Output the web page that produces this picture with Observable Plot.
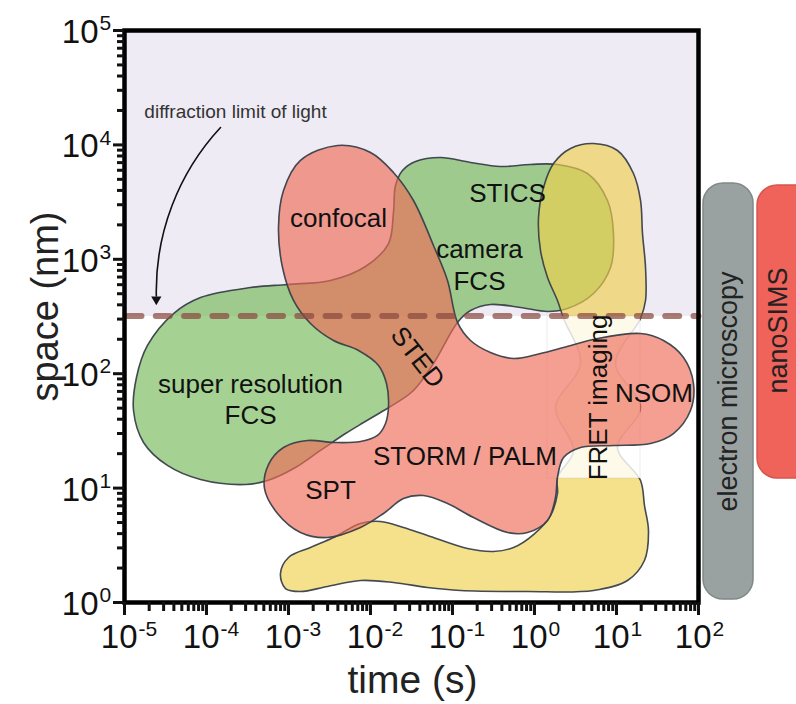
<!DOCTYPE html>
<html><head><meta charset="utf-8">
<script src="https://cdn.jsdelivr.net/npm/d3@7"></script>
<script src="https://cdn.jsdelivr.net/npm/@observablehq/plot@0.6"></script>
<style>body{margin:0;background:#fff}</style>
</head><body><div id="chart"></div>
<script>
// axis decades (log10 of time in s, log10 of space in nm)
const timeDecades = [-5, -4, -3, -2, -1, 0, 1, 2];
const spaceDecades = [0, 1, 2, 3, 4, 5];
const diffractionLimitNm = 320;
const diffractionBandLog = 2.5;

// blob outlines as [log10 time (s), log10 space (nm)]
const greenBlob = [
[-4.72,2.247],[-4.402,2.526],[-4.073,2.666],[-3.463,2.753],[-3.012,2.78],[-2.488,2.815],[-2.061,2.937],[-1.78,3.138],[-1.72,3.409],[-1.695,3.645],[-1.61,3.776],[-1.451,3.855],[-1.146,3.89],[-0.78,3.846],[-0.415,3.811],[-0.049,3.829],[0.28,3.829],[0.646,3.75],[0.89,3.514],[0.963,3.226],[0.927,2.928],[0.72,2.701],[0.402,2.57],[0.159,2.544],[-0.171,2.579],[-0.537,2.605],[-0.78,2.552],[-0.939,2.448],[-1.232,2.089],[-1.476,1.853],[-1.695,1.74],[-1.878,1.661],[-2.085,1.573],[-2.305,1.477],[-2.61,1.329],[-2.915,1.18],[-3.256,1.066],[-3.524,1.031],[-4.073,1.075],[-4.476,1.198],[-4.768,1.399],[-4.89,1.678],[-4.854,1.967]
];
const yellowBlob = [
[0.72,4.012],[1.012,3.951],[1.207,3.75],[1.293,3.514],[1.317,3.226],[1.354,2.928],[1.354,2.64],[1.293,2.483],[0.988,2.089],[1.293,1.705],[1.012,1.355],[1.293,1.066],[1.341,0.848],[1.39,0.629],[1.341,0.367],[1.134,0.192],[0.72,0.105],[-0.085,0.096],[-0.902,0.105],[-1.305,0.131],[-1.72,0.175],[-2.122,0.192],[-2.524,0.14],[-2.854,0.096],[-3.037,0.122],[-3.098,0.253],[-3.0,0.393],[-2.732,0.481],[-2.451,0.568],[-2.122,0.691],[-1.878,0.708],[-1.598,0.656],[-1.305,0.586],[-0.817,0.472],[-0.5,0.446],[-0.256,0.481],[-0.012,0.594],[0.195,0.76],[0.28,0.953],[0.28,1.093],[0.476,1.329],[0.256,1.705],[0.561,2.089],[0.354,2.483],[0.28,2.64],[0.159,2.841],[0.073,3.077],[0.049,3.365],[0.11,3.628],[0.232,3.837],[0.439,3.969]
];
const redBlob = [
[-2.402,3.995],[-2.0,3.934],[-1.72,3.759],[-1.476,3.514],[-1.232,3.121],[-1.061,2.815],[-0.939,2.448],[-0.78,2.29],[-0.537,2.185],[-0.256,2.133],[0.073,2.177],[0.354,2.229],[0.768,2.308],[1.293,2.351],[1.573,2.29],[1.817,2.142],[1.939,1.914],[1.902,1.678],[1.695,1.477],[1.415,1.39],[0.963,1.372],[0.561,1.355],[0.354,1.267],[0.28,1.093],[0.256,0.918],[0.159,0.717],[-0.085,0.612],[-0.329,0.612],[-0.744,0.743],[-1.061,0.865],[-1.354,0.935],[-1.598,0.909],[-1.841,0.778],[-2.122,0.656],[-2.524,0.568],[-2.854,0.612],[-3.134,0.778],[-3.293,0.997],[-3.244,1.206],[-3.061,1.355],[-2.768,1.416],[-2.451,1.399],[-2.122,1.407],[-1.915,1.46],[-1.817,1.565],[-1.78,1.722],[-1.805,1.914],[-1.902,2.072],[-2.146,2.203],[-2.451,2.29],[-2.732,2.439],[-2.939,2.64],[-3.073,2.928],[-3.122,3.278],[-3.061,3.601],[-2.854,3.864]
];
// FRET faded band [t1, t2, s1, s2] in log10
const fretFade = [0.159, 1.293, 1.084, 2.5];

const labels = [
  {text: "confocal", t: -2.39, s: 3.357, r: 0},
  {text: "STICS", t: -0.329, s: 3.575, r: 0},
  {text: "camera", t: -0.671, s: 3.086, r: 0},
  {text: "FCS", t: -0.671, s: 2.806, r: 0},
  {text: "super resolution", t: -3.463, s: 1.906, r: 0},
  {text: "FCS", t: -3.463, s: 1.635, r: 0},
  {text: "STED", t: -1.427, s: 2.142, r: 52},
  {text: "STORM / PALM", t: -0.848, s: 1.276, r: 0},
  {text: "SPT", t: -2.488, s: 0.979, r: 0},
  {text: "NSOM", t: 1.457, s: 1.827, r: 0},
  {text: "FRET imaging", t: 0.78, s: 1.792, r: -90}
];
const annotation = {text: "diffraction limit of light", t: -3.646, s: 4.292};
const arrowPath = {t1: -3.829, s1: 4.152, t2: -4.612, s2: 2.68, tipS: 2.649};

const sideBars = [
  {name: "electron microscopy", t1: 2.061, t2: 2.671, s1: 0.026, s2: 3.663, fill: "#9aa2a1", stroke: "#7f8987", tc: 2.366, sc: 1.844},
  {name: "nanoSIMS", t1: 2.72, t2: 3.49, s1: 1.084, s2: 3.645, fill: "#f0635a", stroke: "#d6554d", tc: 2.976, sc: 2.378}
];

const P = v => 10 ** v;
const minorX = [], minorY = [];
for (const k of timeDecades.slice(0, -1)) for (let m = 2; m <= 9; m++) minorX.push(m * P(k));
for (const k of spaceDecades.slice(0, -1)) for (let m = 2; m <= 9; m++) minorY.push(m * P(k));

const outline = "#39404a";
const blob = (data, fill) => Plot.line(data, {
  x: d => P(d[0]), y: d => P(d[1]), curve: "catmull-rom-closed",
  fill, fillOpacity: 0.65, stroke: outline, strokeWidth: 1.6, strokeOpacity: 0.95
});
const font = "'Liberation Sans', Arial, Helvetica, sans-serif";
const limitLine = [{t: P(-5), s: diffractionLimitNm}, {t: P(2), s: diffractionLimitNm}];

const chart = Plot.plot({
  width: 796, height: 704,
  marginLeft: 124, marginRight: 98, marginTop: 30, marginBottom: 102,
  x: {type: "log", domain: [P(timeDecades[0]), P(timeDecades[timeDecades.length - 1])]},
  y: {type: "log", domain: [P(spaceDecades[0]), P(spaceDecades[spaceDecades.length - 1])]},
  style: {fontFamily: font, background: "white", overflow: "visible", color: "#111"},
  marks: [
    Plot.rect([{x1: P(-5), x2: P(2), y1: P(diffractionBandLog), y2: P(5)}], {x1: "x1", x2: "x2", y1: "y1", y2: "y2", fill: "#eeebf4"}),
    blob(greenBlob, "#74b858"),
    blob(yellowBlob, "#f0cf4e"),
    Plot.rect([{x1: P(fretFade[0]), x2: P(fretFade[1]), y1: P(fretFade[2]), y2: P(fretFade[3])}],
      {x1: "x1", x2: "x2", y1: "y1", y2: "y2", fill: "white", fillOpacity: 0.82, stroke: "#888", strokeOpacity: 0.2, strokeWidth: 0.8}),
    blob(redBlob, "#ee6b58"),
    Plot.line(limitLine, {x: "t", y: "s", stroke: "#8a4a40", strokeOpacity: 0.72, strokeWidth: 6, strokeDasharray: "14 14.3", strokeDashoffset: 25.3}),
    Plot.text(labels, {x: d => P(d.t), y: d => P(d.s), text: "text", rotate: "r", fontSize: 26, lineAnchor: "middle", fill: "#111"}),
    Plot.text([annotation], {x: d => P(d.t), y: d => P(d.s), text: "text", fontSize: 19, lineAnchor: "middle", fill: "#333"}),
    Plot.arrow([arrowPath], {x1: d => P(d.t1), y1: d => P(d.s1), x2: d => P(d.t2), y2: d => P(d.s2), bend: -22, headLength: 0, strokeWidth: 1.6, stroke: "#111"}),
    Plot.dot([arrowPath], {x: d => P(d.t2), y: d => P(d.tipS), symbol: "triangle", r: 3.8, rotate: 180, fill: "#111", stroke: "none"}),
    // side bars
    Plot.rect(sideBars, {x1: d => P(d.t1), x2: d => P(d.t2), y1: d => P(d.s1), y2: d => P(d.s2), fill: "fill", stroke: "stroke", strokeWidth: 1.5, rx: 20}),
    Plot.text(sideBars, {x: d => P(d.tc), y: d => P(d.sc), text: "name", rotate: -90, fontSize: 27, lineAnchor: "middle", fill: "#222"}),
    // frame and axes
    Plot.frame({stroke: "#000", strokeWidth: 4.5}),
    Plot.axisX({ticks: timeDecades.map(P), tickSize: 13, strokeWidth: 3, tickFormat: () => "", label: null}),
    Plot.axisX({ticks: minorX, tickSize: 9, strokeWidth: 3, tickFormat: () => "", label: null}),
    Plot.axisY({ticks: spaceDecades.map(P), tickSize: 11, strokeWidth: 3, tickFormat: () => "", label: null}),
    Plot.axisY({ticks: minorY, tickSize: 7, strokeWidth: 3, tickFormat: () => "", label: null}),
    Plot.text(timeDecades, {x: d => P(d), y: () => 1, text: () => "10", textAnchor: "end", dx: 13, dy: 35, fontSize: 33, lineAnchor: "middle", fill: "#111"}),
    Plot.text(timeDecades, {x: d => P(d), y: () => 1, text: d => String(d), textAnchor: "start", dx: 14, dy: 27, fontSize: 21, lineAnchor: "middle", fill: "#111"}),
    Plot.text(spaceDecades, {x: () => P(-5), y: d => P(d), text: () => "10", textAnchor: "end", dx: -26, dy: 2, fontSize: 33, lineAnchor: "middle", fill: "#111"}),
    Plot.text(spaceDecades, {x: () => P(-5), y: d => P(d), text: d => String(d), textAnchor: "start", dx: -25, dy: -7, fontSize: 21, lineAnchor: "middle", fill: "#111"}),
    Plot.text(["time (s)"], {x: () => P(-1.488), y: () => 1, text: d => d, dy: 78, fontSize: 39, lineAnchor: "middle", fill: "#222"}),
    Plot.text(["space (nm)"], {x: () => P(-5), y: () => P(2.587), text: d => d, dx: -79, rotate: -90, fontSize: 38, lineAnchor: "middle", fill: "#222"})
  ]
});
document.getElementById("chart").appendChild(chart);
</script>
</body></html>
